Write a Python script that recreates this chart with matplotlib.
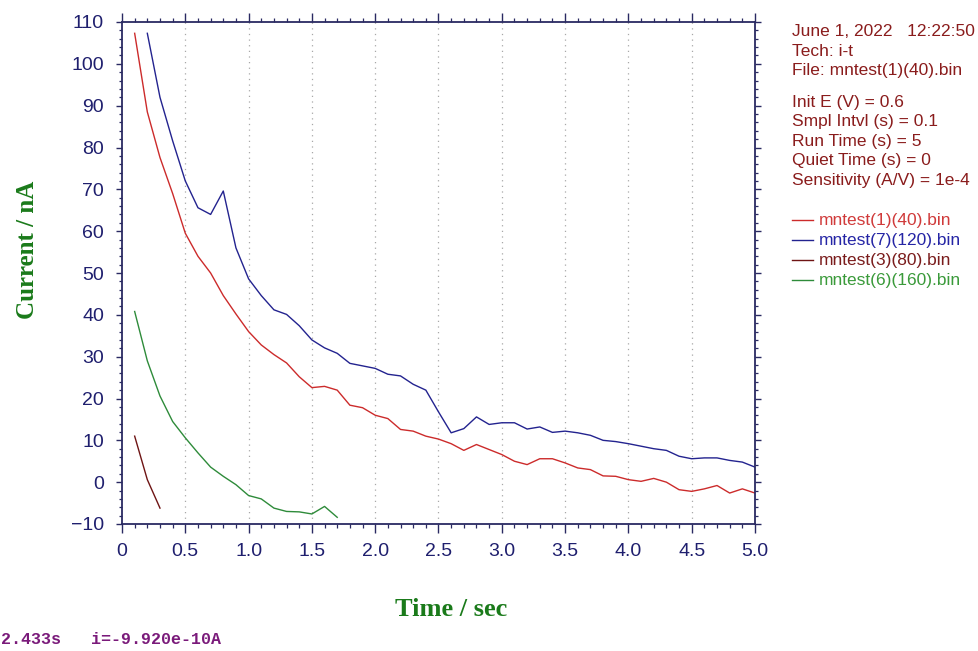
import numpy as np
import matplotlib
matplotlib.use("Agg")
import matplotlib.pyplot as plt
from matplotlib.ticker import MultipleLocator
from matplotlib.lines import Line2D

# ---------------- data ----------------
sample_interval = 0.1
red_t = np.round(np.arange(1, 51) * sample_interval, 1)      # 0.1 .. 5.0
red_i = [107.3, 88.5, 77.6, 69.0, 59.5, 54.0, 50.0, 44.6, 40.2, 36.0,
         32.8, 30.5, 28.5, 25.2, 22.6, 22.9, 22.0, 18.4, 17.8, 16.0,
         15.2, 12.6, 12.2, 11.0, 10.3, 9.2, 7.6, 9.0, 7.8, 6.6,
         5.0, 4.2, 5.6, 5.6, 4.6, 3.4, 3.0, 1.5, 1.4, 0.6,
         0.2, 0.9, 0.0, -1.8, -2.2, -1.6, -0.8, -2.6, -1.6, -2.6]

blue_t = np.round(np.arange(2, 51) * sample_interval, 1)     # 0.2 .. 5.0
blue_i = [107.3, 92.0, 81.6, 72.0, 65.6, 64.0, 69.6, 56.0, 48.6,
          44.6, 41.2, 40.1, 37.4, 34.0, 32.1, 30.8, 28.4, 27.8, 27.2,
          25.8, 25.4, 23.4, 22.0, 16.8, 11.8, 12.8, 15.6, 13.8, 14.2,
          14.2, 12.7, 13.2, 11.9, 12.2, 11.8, 11.2, 10.0, 9.7, 9.2,
          8.6, 8.0, 7.6, 6.2, 5.6, 5.8, 5.8, 5.2, 4.8, 3.6]

maroon_t = np.round(np.arange(1, 4) * sample_interval, 1)    # 0.1 .. 0.3
maroon_i = [11.0, 0.6, -6.2]

green_t = np.round(np.arange(1, 18) * sample_interval, 1)    # 0.1 .. 1.7
green_i = [40.8, 29.0, 20.6, 14.5, 10.6, 7.0, 3.6, 1.4, -0.6, -3.2,
           -4.0, -6.2, -7.0, -7.1, -7.6, -5.8, -8.4]

series_names = ["mntest(1)(40).bin", "mntest(7)(120).bin",
                "mntest(3)(80).bin", "mntest(6)(160).bin"]
series_colors = ["#cc2b2b", "#23238f", "#6e1414", "#2e8b3a"]
legend_text_colors = ["#d03a3a", "#2525a5", "#7a1c1c", "#3a9a3a"]

header_lines = ["June 1, 2022   12:22:50", "Tech: i-t", "File: mntest(1)(40).bin"]
param_lines = ["Init E (V) = 0.6", "Smpl Intvl (s) = 0.1", "Run Time (s) = 5",
               "Quiet Time (s) = 0", "Sensitivity (A/V) = 1e-4"]
status_text = "2.433s   i=-9.920e-10A"

x_ticks = [0, 0.5, 1.0, 1.5, 2.0, 2.5, 3.0, 3.5, 4.0, 4.5, 5.0]
x_tick_labels = ["0", "0.5", "1.0", "1.5", "2.0", "2.5", "3.0", "3.5", "4.0", "4.5", "5.0"]
y_ticks = [-10, 0, 10, 20, 30, 40, 50, 60, 70, 80, 90, 100, 110]

# ---------------- figure ----------------
W, H = 979, 651
fig = plt.figure(figsize=(W / 100, H / 100), dpi=100)
fig.patch.set_facecolor("white")

ax_l, ax_r, ax_t, ax_b = 122, 755, 22, 524
ax = fig.add_axes([ax_l / W, 1 - ax_b / H, (ax_r - ax_l) / W, (ax_b - ax_t) / H])

frame_color = "#2a2a62"
tick_color = "#1f1f6e"
label_green = "#1a7a1a"

ax.plot(red_t, red_i, color=series_colors[0], lw=1.0)
ax.plot(blue_t, blue_i, color=series_colors[1], lw=1.0)
ax.plot(maroon_t, maroon_i, color=series_colors[2], lw=1.0)
ax.plot(green_t, green_i, color=series_colors[3], lw=1.0)

ax.set_xlim(0, 5.0)
ax.set_ylim(-10, 110)

for s in ax.spines.values():
    s.set_color(frame_color)
    s.set_linewidth(1.3)

ax.set_xticks(x_ticks)
ax.set_xticklabels(x_tick_labels)
ax.set_yticks(y_ticks)
ax.xaxis.set_minor_locator(MultipleLocator(0.1))
ax.yaxis.set_minor_locator(MultipleLocator(2))

ax.tick_params(axis="x", which="major", direction="out", length=6.5, width=1.0,
               color=frame_color, top=True, bottom=True, pad=7,
               labelsize=14, labelcolor=tick_color)
ax.tick_params(axis="x", which="minor", direction="out", length=3, width=0.9,
               color=frame_color, top=True, bottom=True)
ax.tick_params(axis="y", which="major", direction="out", length=4, width=1.0,
               color=frame_color, left=True, right=True, pad=9,
               labelsize=14, labelcolor=tick_color)
ax.tick_params(axis="y", which="minor", direction="out", length=2.2, width=0.9,
               color=frame_color, left=True, right=True)
for lab in ax.get_xticklabels() + ax.get_yticklabels():
    lab.set_family("Liberation Sans")

# vertical dotted grid
for xv in x_ticks[1:-1]:
    ax.axvline(xv, color="#a8a8a8", lw=0.9, ls=(0, (1, 3.5)), zorder=0)

# axis labels
fig.text(28 / W, 1 - 250 / H, "Current / nA", rotation=90, ha="center", va="center",
         family="Liberation Serif", fontweight="bold", fontsize=18, color=label_green)
fig.text(451 / W, 1 - 610 / H, "Time / sec", ha="center", va="center",
         family="Liberation Serif", fontweight="bold", fontsize=19, color=label_green)

# right info panel
text_x = 792 / W
info_color = "#8a1c1c"
y = 32
for line in header_lines:
    fig.text(text_x, 1 - y / H, line, ha="left", va="center", family="Liberation Sans",
             fontsize=12.5, color=info_color)
    y += 19
y = 102
for line in param_lines:
    fig.text(text_x, 1 - y / H, line, ha="left", va="center", family="Liberation Sans",
             fontsize=12.5, color=info_color)
    y += 19.5
y = 220
for name, lc, tc in zip(series_names, series_colors, legend_text_colors):
    fig.add_artist(Line2D([792 / W, 813 / W], [1 - y / H, 1 - y / H],
                          transform=fig.transFigure, color=lc, lw=1.0))
    fig.text(819 / W, 1 - y / H, name, ha="left", va="center", family="Liberation Sans",
             fontsize=12.5, color=tc)
    y += 20

# status line at the bottom-left corner
fig.text(1 / W, 1 - 640 / H, status_text, ha="left", va="center",
         family="Liberation Mono", fontweight="bold", fontsize=12, color="#7a1a7a")

fig.savefig("out.png", dpi=100)
